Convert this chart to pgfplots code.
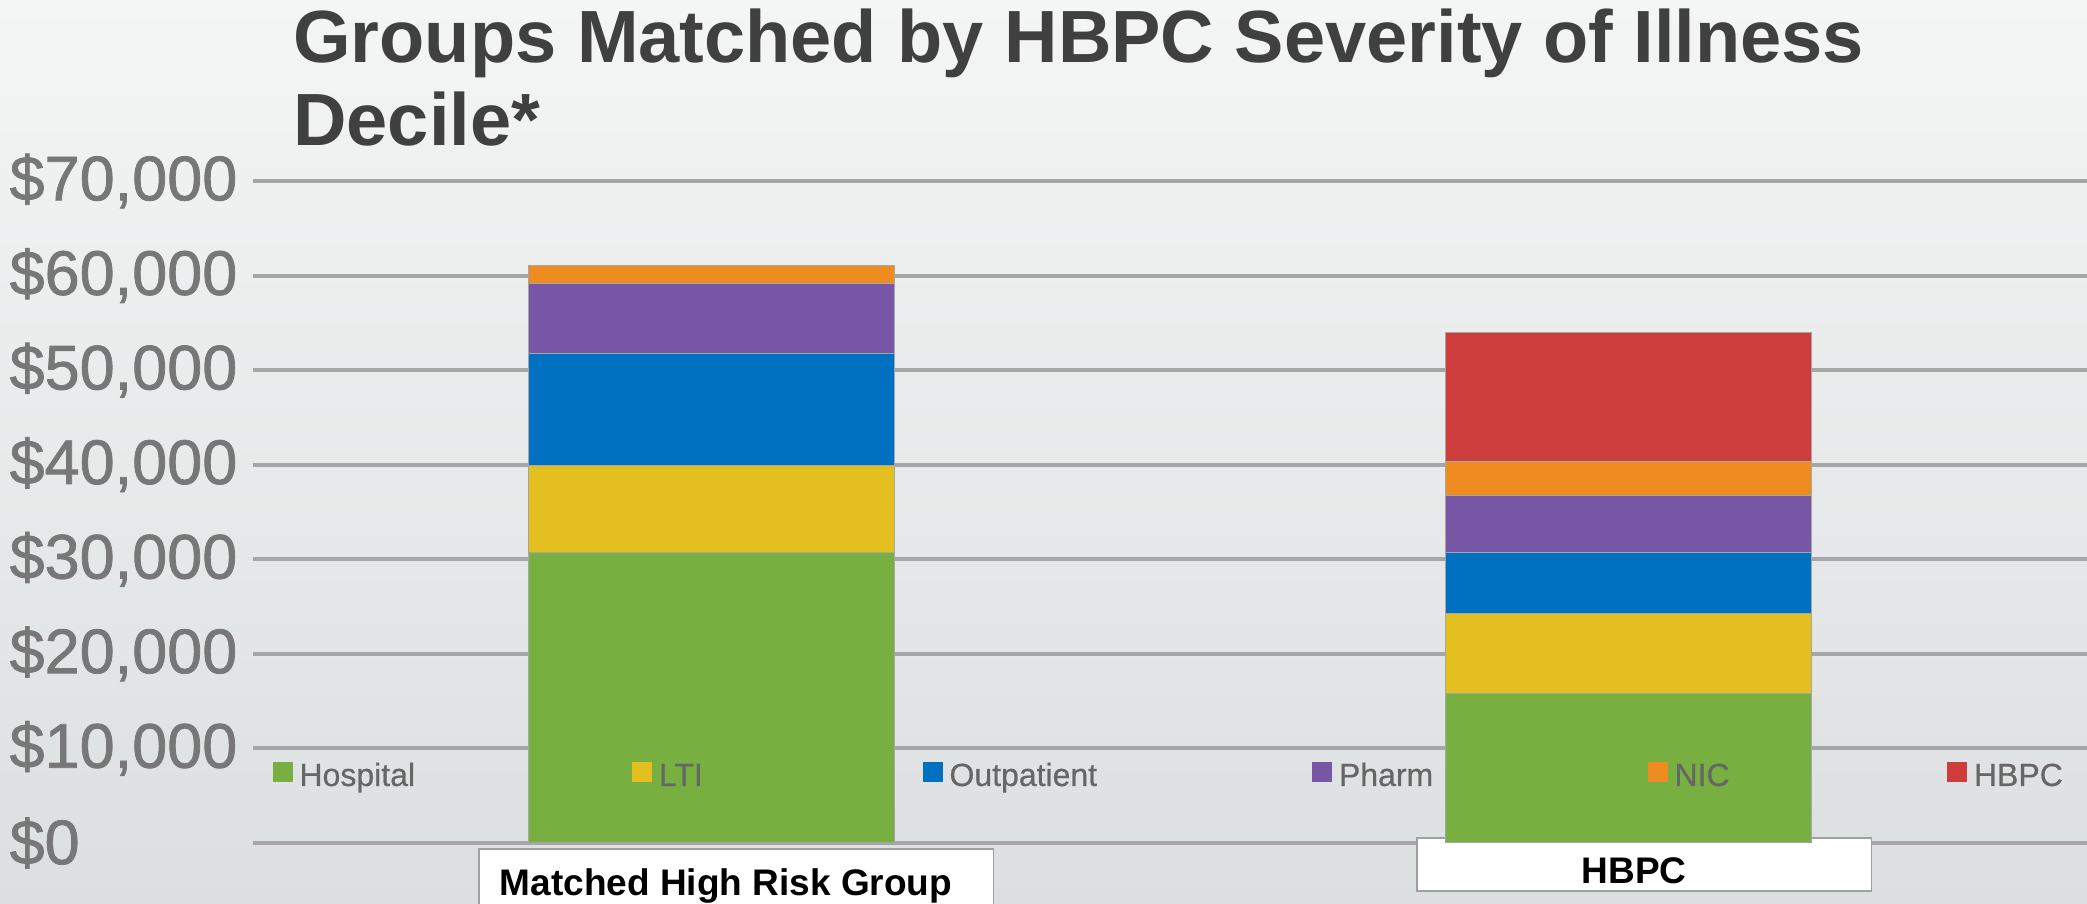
\documentclass[border=0pt]{standalone}
\usepackage{fontspec}
\setmainfont{Liberation Sans}
\newfontfamily\tickfont[FakeBold=1.2]{Liberation Sans}
\newfontfamily\legfont[FakeBold=0.6]{Liberation Sans}
\usepackage{pgfplots}
\pgfplotsset{compat=1.18}

\definecolor{hosp}{HTML}{78AF41}
\definecolor{lti}{HTML}{E3BF1F}
\definecolor{outp}{HTML}{0070C0}
\definecolor{pharm}{HTML}{7756A6}
\definecolor{nic}{HTML}{EE8C22}
\definecolor{hbpc}{HTML}{CC3D3B}
\definecolor{titlegray}{HTML}{404040}
\definecolor{tickgray}{HTML}{777777}
\definecolor{legendgray}{HTML}{666666}
\definecolor{gridgray}{HTML}{A6A6A6}
\definecolor{boxgray}{HTML}{A0A0A0}
\definecolor{bgtop}{HTML}{F4F5F5}
\definecolor{bgbot}{HTML}{DCDFE0}

% legend entry of fixed width, vertically centred on the cap height
\newcommand{\lent}[2]{\makebox[#1][l]{\rule[-4pt]{0pt}{19.5pt}#2}}

\begin{document}
\begin{tikzpicture}
\useasboundingbox (0,0) rectangle (1043.5pt,452pt);
\shade[top color=bgtop, bottom color=bgbot] (0,0) rectangle (1043.5pt,452pt);
\clip (0,0) rectangle (1043.5pt,452pt);

\node[anchor=base west, inner sep=0pt, font=\bfseries\fontsize{37}{44}\selectfont, text=titlegray]
  at (146.5pt,420.75pt) {Groups Matched by HBPC Severity of Illness};
\node[anchor=base west, inner sep=0pt, font=\bfseries\fontsize{37}{44}\selectfont, text=titlegray]
  at (146.5pt,379pt) {Decile*};

\setlength{\fboxsep}{0pt}
\setlength{\fboxrule}{0.8pt}
\begin{axis}[
  at={(126.5pt,30.5pt)}, anchor=south west,
  width=917pt, height=331pt, scale only axis,
  ybar stacked, bar width=0.4,
  xmin=-0.5, xmax=1.5, ymin=0, ymax=70000,
  scaled y ticks=false,
  xtick={0,1},
  xticklabels={
    {\vbox{\kern5.5pt\hbox{\hspace*{9pt}\fcolorbox{boxgray}{white}{\makebox[256.5pt][c]{\rule[-9pt]{0pt}{32pt}Matched High Risk Group\hspace*{10pt}}}}}},
    {\fcolorbox{boxgray}{white}{\makebox[226.5pt][c]{\rule[-3pt]{0pt}{25.5pt}HBPC\hspace*{10pt}}}}
  },
  xticklabel style={anchor=north, inner sep=0pt, yshift=3pt, xshift=7.75pt,
    font=\bfseries\fontsize{18.5}{22}\selectfont, text=black},
  ytick={0,10000,...,70000},
  yticklabels={{\$0},{\$10,000},{\$20,000},{\$30,000},{\$40,000},{\$50,000},{\$60,000},{\$70,000}},
  yticklabel style={anchor=east, inner sep=0pt, xshift=-7.5pt,
    text width=114pt, align=left,
    font=\tickfont\fontsize{31.5}{36}\selectfont, text=tickgray},
  ymajorgrids, grid style={line width=2pt, color=gridgray},
  axis line style={draw=none},
  major tick length=0pt,
  legend columns=6,
  legend image code/.code={\fill[#1,draw=none] (0pt,-5pt) rectangle (10pt,5pt); \path (13pt,0pt);},
  legend style={at={(axis description cs:0.0109,0.1073)}, anchor=west,
    draw=none, fill=none, inner sep=0pt, outer sep=0pt, column sep=0pt,
    font=\legfont\fontsize{16}{19}\selectfont, text=legendgray,
    cells={anchor=west}, nodes={inner sep=0pt}},
  every axis plot/.append style={draw=black!35, line width=0.5pt},
]
\addplot[fill=hosp]  coordinates {(0,30700) (1,15800)};
\addplot[fill=lti]   coordinates {(0,9200)  (1,8500)};
\addplot[fill=outp]  coordinates {(0,11900) (1,6400)};
\addplot[fill=pharm] coordinates {(0,7400)  (1,6000)};
\addplot[fill=nic]   coordinates {(0,1900)  (1,3600)};
\addplot[fill=hbpc]  coordinates {(0,0)     (1,13700)};
\addlegendentry{\lent{166.5pt}{Hospital}}
\addlegendentry{\lent{132pt}{LTI}}
\addlegendentry{\lent{181.5pt}{Outpatient}}
\addlegendentry{\lent{154.5pt}{Pharm}}
\addlegendentry{\lent{136.5pt}{NIC}}
\addlegendentry{\lent{50pt}{HBPC}}
\end{axis}
\end{tikzpicture}
\end{document}
